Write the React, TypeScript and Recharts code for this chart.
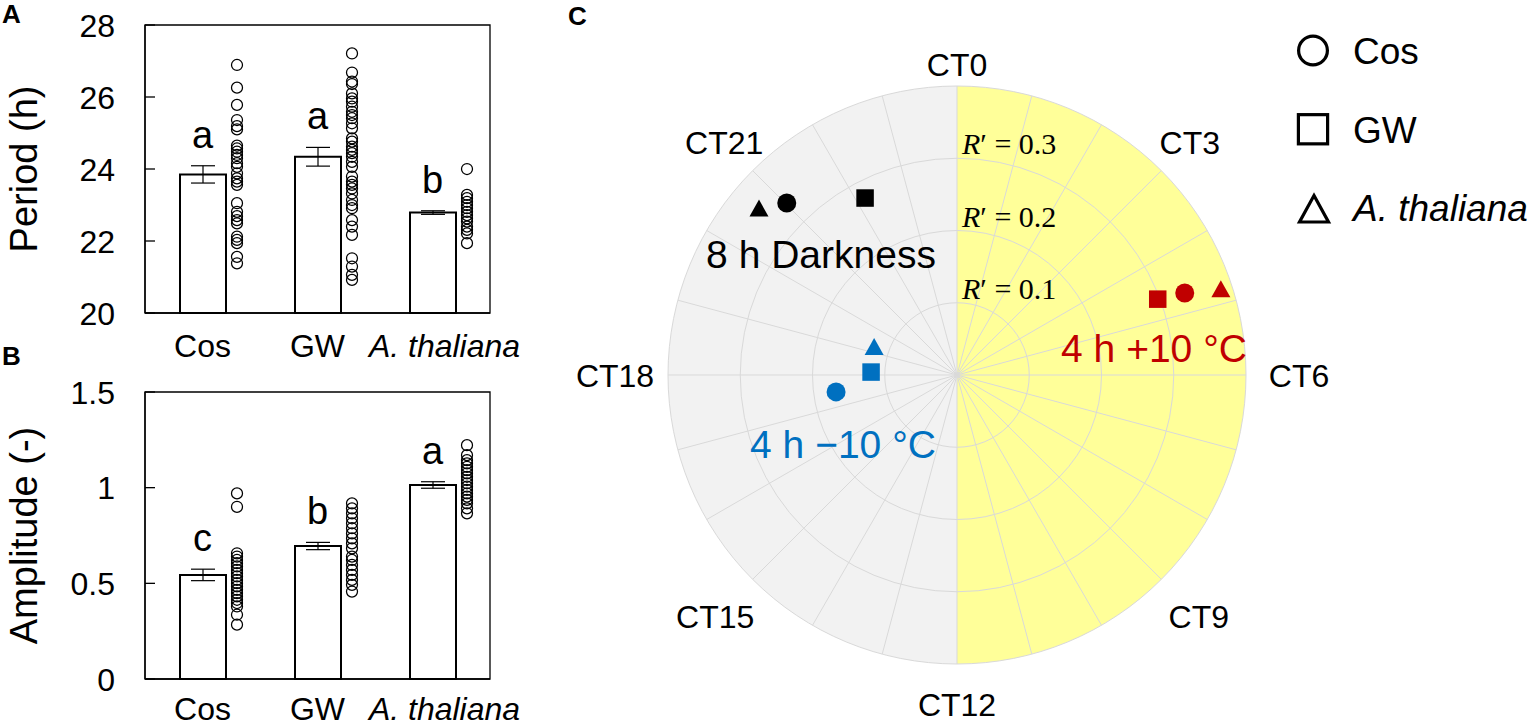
import React from 'react';
import {
  ComposedChart, Bar, ErrorBar, Scatter, XAxis, YAxis, ReferenceArea,
  ScatterChart, RadarChart, Radar, PolarGrid, PolarAngleAxis, PolarRadiusAxis,
  PieChart, Pie, Cell, Legend,
} from 'recharts';

const FONT = '"Liberation Sans", Arial, sans-serif';
const SERIF = '"Liberation Serif", "DejaVu Serif", serif';

// ---------- shared categories ----------
const genotypes = ['Cos', 'GW', 'A. thaliana'];

// ---------- Panel A: period ----------
const periodMean = [23.85, 24.34, 22.79];
const periodErr = [0.24, 0.26, 0.05];
const periodLetters = ['a', 'a', 'b'];
const periodTicks = [20, 22, 24, 26, 28];
const periodCos = [26.89, 26.26, 25.78, 25.36, 25.19, 25.1, 24.65, 24.57, 24.48, 24.39, 24.3, 24.16, 24.06, 23.88, 23.74, 23.65, 23.56, 23.05, 22.81, 22.69, 22.58, 22.49, 22.12, 22.03, 21.94, 21.56, 21.38];
const periodGW = [27.21, 26.68, 26.43, 26.36, 26.1, 25.96, 25.87, 25.73, 25.59, 25.5, 25.41, 25.27, 25.13, 24.85, 24.76, 24.62, 24.53, 24.44, 24.34, 24.2, 24.06, 23.79, 23.65, 23.56, 23.46, 23.32, 23.14, 23.0, 22.91, 22.58, 22.4, 22.17, 21.52, 21.29, 21.06, 20.92];
const periodAth = [24.0, 23.28, 23.19, 23.09, 23.0, 22.91, 22.81, 22.72, 22.63, 22.54, 22.4, 22.31, 22.21, 21.94];

// ---------- Panel B: amplitude ----------
const ampMean = [0.544, 0.695, 1.014];
const ampErr = [0.03, 0.019, 0.017];
const ampLetters = ['c', 'b', 'a'];
const ampTicks = [0, 0.5, 1, 1.5];
const ampCos = [0.97, 0.9, 0.657, 0.64, 0.622, 0.605, 0.588, 0.57, 0.553, 0.536, 0.518, 0.501, 0.484, 0.466, 0.449, 0.432, 0.414, 0.397, 0.379, 0.336, 0.284];
const ampGW = [0.918, 0.892, 0.866, 0.84, 0.814, 0.788, 0.761, 0.735, 0.709, 0.683, 0.64, 0.622, 0.596, 0.57, 0.544, 0.518, 0.492, 0.457];
const ampAth = [1.222, 1.17, 1.144, 1.127, 1.109, 1.092, 1.075, 1.057, 1.04, 1.023, 1.005, 0.988, 0.97, 0.953, 0.936, 0.918, 0.892, 0.866];

// ---------- Panel C: phase plot ----------
const hours = [0, 1, 2, 3, 4, 5, 6, 7, 8, 9, 10, 11, 12, 13, 14, 15, 16, 17, 18, 19, 20, 21, 22, 23];
const radiusTicks = [0, 0.1, 0.2, 0.3, 0.4];
const rLabelTicks = [0.1, 0.2, 0.3];
const halves = [{ name: 'light', value: 12 }, { name: 'dark', value: 12 }];
const halfColors = ['#FFFF99', '#F2F2F2'];
const treatments = ['8 h Darkness', '4 h +10 °C', '4 h \u221210 °C'];
const treatmentColors = ['#000000', '#C00000', '#0070C0'];
const cosPhase = [21.02, 4.68, 17.47];
const cosR = [0.335, 0.335, 0.169];
const gwPhase = [22.17, 4.62, 18.13];
const gwR = [0.276, 0.297, 0.119];
const athPhase = [20.67, 4.8, 19.24];
const athR = [0.358, 0.384, 0.121];

// ---------- helpers ----------
const YTick = (props: any) => {
  const { x, y, payload } = props;
  return (
    <g>
      <line x1={x} x2={x + 10} y1={y} y2={y} stroke="#000" strokeWidth={1.3} />
      <text x={x - 30} y={y} dy="0.36em" textAnchor="end" fontSize={32} fontFamily={FONT} fill="#000">
        {String(payload.value)}
      </text>
    </g>
  );
};

const makeXTick = (labelDy: number) => (props: any) => {
  const { x, y, payload } = props;
  const italic = payload.value === 'A. thaliana';
  return (
    <text x={x} y={y} dy={labelDy} dx={italic ? 12 : 0} textAnchor="middle" fontSize={32} fontFamily={FONT}
      fontStyle={italic ? 'italic' : 'normal'} fill="#000">
      {payload.value}
    </text>
  );
};

const OpenDot = (props: any) => (
  <circle cx={props.cx} cy={props.cy} r={5.5} fill="none" stroke="#000" strokeWidth={1.25} />
);

const LetterShape = (props: any) => (
  <text x={props.cx} y={props.cy} dy={-18} textAnchor="middle" fontSize={38} fontFamily={FONT} fill="#000">
    {props.payload.letter}
  </text>
);

type PanelProps = {
  top: number; height: number; mTop: number; mBottom: number; labelDy: number;
  means: number[]; errs: number[]; letters: string[]; points: number[][];
  domain: [number, number]; ticks: number[]; title: string;
};

function BarPanel(p: PanelProps) {
  const barData = genotypes.map((name, i) => ({ name, mean: p.means[i], err: p.errs[i] }));
  const dotData = p.points.flatMap((arr, i) => arr.map((v) => ({ x: i + 0.3, y: v })));
  const letterData = genotypes.map((_, i) => ({ x: i, y: p.means[i] + p.errs[i], letter: p.letters[i] }));
  return (
    <div style={{ position: 'absolute', left: 0, top: p.top, width: 560, height: p.height }}>
      <ComposedChart width={560} height={p.height} data={barData} style={{ overflow: 'visible' }}
        margin={{ top: p.mTop, right: 70, bottom: p.mBottom, left: 0 }}>
        <XAxis xAxisId="cat" dataKey="name" type="category" height={40} tickSize={0} tickMargin={0}
          tickLine={false} axisLine={{ stroke: '#000', strokeWidth: 1.3 }} tick={makeXTick(p.labelDy)} interval={0} />
        <XAxis xAxisId="num" dataKey="x" type="number" domain={[-0.5, 2.5]} hide />
        <YAxis dataKey="y" type="number" domain={p.domain} ticks={p.ticks} width={145} tickSize={0}
          tickMargin={0} tickLine={false} axisLine={{ stroke: '#000', strokeWidth: 1.3 }} tick={YTick}
          interval={0}
          label={{
            value: p.title, angle: -90, position: 'insideLeft', offset: 24, fontSize: 38,
            style: { textAnchor: 'middle', fontSize: 38, fontFamily: FONT, fill: '#000' },
          }} />
        <ReferenceArea xAxisId="num" x1={-0.5} x2={2.5} y1={p.domain[0]} y2={p.domain[1]}
          fill="none" fillOpacity={0} stroke="#000" strokeWidth={1.3} />
        <Bar xAxisId="cat" dataKey="mean" fill="#fff" stroke="#000" strokeWidth={2} barSize={46}
          isAnimationActive={false}>
          <ErrorBar dataKey="err" width={12} stroke="#000" strokeWidth={1.2} direction="y" />
        </Bar>
        <Scatter xAxisId="num" data={dotData} shape={OpenDot} isAnimationActive={false} />
        <Scatter xAxisId="num" data={letterData} shape={LetterShape} isAnimationActive={false} />
      </ComposedChart>
    </div>
  );
}

// ---------- polar panel ----------
const PW = 980, PH = 727, CX = 397, CY = 375, OR = 289;

const CTTick = (props: any) => {
  const { x, y, payload } = props;
  const h = Number(payload.value);
  if (h % 3 !== 0) return <g />;
  const label = `CT${h}`;
  const dx = x - CX, dy = y - CY;
  const d = Math.hypot(dx, dy) || 1;
  const ux = dx / d, uy = dy / d;
  const rc = 320 + 22 * Math.abs(ux) + 9 * uy;
  return (
    <text x={CX + ux * rc} y={CY + uy * rc} dy="0.36em" textAnchor="middle" fontSize={32}
      fontFamily={FONT} fill="#000">
      {label}
    </text>
  );
};

const RTick = (props: any) => {
  const { x, y, payload } = props;
  const v = Number(payload.value);
  if (!rLabelTicks.some((t) => Math.abs(t - v) < 1e-6)) return <g />;
  return (
    <text x={x} y={y} dx={5} dy={-4} textAnchor="start" fontSize={30} fontFamily={SERIF} fill="#000">
      <tspan fontStyle="italic">R</tspan>
      <tspan>{`\u2032 = ${v.toFixed(1)}`}</tspan>
    </text>
  );
};

const toXY = (ct: number, r: number) => {
  const th = (ct / 24) * 2 * Math.PI;
  return { x: r * Math.sin(th), y: r * Math.cos(th) };
};

const makePts = (phase: number[], rr: number[]) =>
  treatments.map((_, i) => ({ ...toXY(phase[i], rr[i]), t: i }));

const cosPts = makePts(cosPhase, cosR);
const gwPts = makePts(gwPhase, gwR);
const athPts = makePts(athPhase, athR);

const markerShape = (kind: string) => (props: any) => {
  const { cx, cy, payload } = props;
  const c = treatmentColors[payload.t];
  if (kind === 'circle') return <circle cx={cx} cy={cy} r={9.5} fill={c} />;
  if (kind === 'square') return <rect x={cx - 8.75} y={cy - 8.75} width={17.5} height={17.5} fill={c} />;
  return <polygon points={`${cx},${cy - 9} ${cx + 9.5},${cy + 8} ${cx - 9.5},${cy + 8}`} fill={c} />;
};

const LegendContent = (props: any) => {
  const items = [...(props.payload || [])].sort(
    (a: any, b: any) => genotypes.indexOf(a.value) - genotypes.indexOf(b.value),
  );
  return (
    <svg width={250} height={220} style={{ overflow: 'visible', display: 'block' }}>
      {items.map((e: any, i: number) => {
        const cy = 30.5 + i * 78.75;
        const cx = 23;
        let icon;
        if (e.type === 'circle') {
          icon = <circle cx={cx} cy={cy} r={14.4} fill="none" stroke="#000" strokeWidth={3.2} />;
        } else if (e.type === 'square') {
          icon = <rect x={cx - 14.6} y={cy - 14.6} width={29.2} height={29.2} fill="none" stroke="#000" strokeWidth={3.2} />;
        } else {
          icon = <polygon points={`${cx + 1},${cy - 12.5} ${cx + 15.5},${cy + 14} ${cx - 13.5},${cy + 14}`}
            fill="none" stroke="#000" strokeWidth={3.2} />;
        }
        return (
          <g key={i}>
            {icon}
            <text x={63} y={cy} dy="0.36em" fontSize={37} fontFamily={FONT} fill="#000"
              fontStyle={e.value === 'A. thaliana' ? 'italic' : 'normal'}>
              {e.value}
            </text>
          </g>
        );
      })}
    </svg>
  );
};

function PolarPanel() {
  const hourData = hours.map((h) => ({ h, v: 0 }));
  const layer: React.CSSProperties = { position: 'absolute', left: 560, top: 0, width: PW, height: PH };
  return (
    <>
      <div style={layer}>
        <PieChart width={PW} height={PH} margin={{ top: 0, right: 0, bottom: 0, left: 0 }}>
          <Pie data={halves} dataKey="value" cx={CX} cy={CY} innerRadius={0} outerRadius={OR}
            startAngle={90} endAngle={-270} stroke="none" isAnimationActive={false}>
            {halves.map((h, i) => <Cell key={h.name} fill={halfColors[i]} stroke="none" />)}
          </Pie>
        </PieChart>
      </div>
      <div style={layer}>
        <RadarChart width={PW} height={PH} cx={CX} cy={CY} outerRadius={OR} data={hourData}
          startAngle={90} endAngle={-270} margin={{ top: 0, right: 0, bottom: 0, left: 0 }}>
          <PolarGrid gridType="circle" stroke="#D9D9D9" strokeWidth={1} />
          <PolarAngleAxis dataKey="h" tick={CTTick} tickLine={false} axisLine={false} tickSize={11} />
          <PolarRadiusAxis angle={90} domain={[0, 0.4]} tickCount={5} ticks={radiusTicks as any}
            axisLine={false} tick={RTick} />
          <Radar dataKey="v" stroke="none" fill="none" dot={false} isAnimationActive={false} />
        </RadarChart>
      </div>
      <div style={layer}>
        <ScatterChart width={PW} height={PH}
          margin={{ top: CY - OR, left: CX - OR, right: PW - CX - OR, bottom: PH - CY - OR }}>
          <XAxis type="number" dataKey="x" domain={[-0.4, 0.4]} hide />
          <YAxis type="number" dataKey="y" domain={[-0.4, 0.4]} hide />
          <Legend layout="vertical" align="center" verticalAlign="middle"
            wrapperStyle={{ left: 730, top: 20, width: 250, height: 220 }} content={LegendContent} />
          <Scatter name="Cos" legendType="circle" data={cosPts} shape={markerShape('circle')} isAnimationActive={false} />
          <Scatter name="GW" legendType="square" data={gwPts} shape={markerShape('square')} isAnimationActive={false} />
          <Scatter name="A. thaliana" legendType="triangle" data={athPts} shape={markerShape('triangle')} isAnimationActive={false} />
        </ScatterChart>
      </div>
    </>
  );
}

export default function App() {
  return (
    <div style={{ position: 'absolute', left: 0, top: 0, width: 1540, height: 727, background: '#fff', fontFamily: FONT, overflow: 'hidden' }}>
      <BarPanel top={0} height={385} mTop={25} mBottom={32} labelDy={44} means={periodMean} errs={periodErr}
        letters={periodLetters} points={[periodCos, periodGW, periodAth]} domain={[20, 28]}
        ticks={periodTicks} title="Period (h)" />
      <BarPanel top={360} height={367} mTop={32} mBottom={8} labelDy={41} means={ampMean} errs={ampErr}
        letters={ampLetters} points={[ampCos, ampGW, ampAth]} domain={[0, 1.5]}
        ticks={ampTicks} title="Amplitude (-)" />
      <PolarPanel />
      <svg width={1540} height={727} style={{ position: 'absolute', left: 0, top: 0, pointerEvents: 'none' }}>
        <text x={2} y={23} fontSize={26} fontWeight="bold" fontFamily={FONT}>A</text>
        <text x={2} y={365} fontSize={26} fontWeight="bold" fontFamily={FONT}>B</text>
        <text x={568} y={25} fontSize={26} fontWeight="bold" fontFamily={FONT}>C</text>
        <text x={821} y={268} textAnchor="middle" fontSize={39} fontFamily={FONT} fill={treatmentColors[0]}>{treatments[0]}</text>
        <text x={1154} y={362} textAnchor="middle" fontSize={39} fontFamily={FONT} fill={treatmentColors[1]}>{treatments[1]}</text>
        <text x={843} y={458} textAnchor="middle" fontSize={39} fontFamily={FONT} fill={treatmentColors[2]}>{treatments[2]}</text>
      </svg>
    </div>
  );
}
